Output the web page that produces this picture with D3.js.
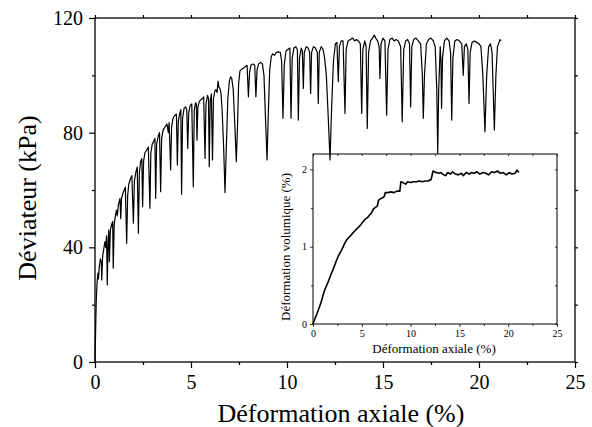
<!DOCTYPE html>
<html>
<head>
<meta charset="utf-8">
<script src="https://cdn.jsdelivr.net/npm/d3@7"></script>
<style>
html,body{margin:0;padding:0;background:#fff;}
svg{display:block;}
text{font-family:"Liberation Serif","Times New Roman",serif;fill:#000;}
</style>
</head>
<body>
<svg id="chart" width="592" height="427"></svg>
<script>
// ---------- DATA ----------
// Main curve: axial strain (%) vs deviator stress (kPa)
const mainStrain = [0.00,0.03,0.06,0.10,0.15,0.18,0.22,0.28,0.33,0.35,0.40,0.47,0.52,0.56,0.60,0.64,0.68,0.72,0.75,0.80,0.87,0.92,0.95,1.00,1.06,1.12,1.16,1.22,1.30,1.34,1.38,1.46,1.52,1.58,1.65,1.70,1.76,1.85,1.92,2.00,2.05,2.12,2.20,2.26,2.31,2.38,2.44,2.48,2.53,2.60,2.70,2.78,2.86,2.91,2.98,3.06,3.12,3.16,3.21,3.30,3.36,3.42,3.47,3.55,3.65,3.75,3.82,3.86,3.94,3.99,4.06,4.15,4.24,4.29,4.34,4.42,4.47,4.51,4.56,4.64,4.72,4.78,4.83,4.88,4.96,5.04,5.12,5.17,5.24,5.28,5.31,5.36,5.44,5.52,5.60,5.66,5.73,5.78,5.86,5.91,5.95,6.00,6.06,6.12,6.17,6.24,6.30,6.36,6.41,6.45,6.50,6.56,6.62,6.70,6.77,6.84,6.92,7.00,7.06,7.12,7.20,7.30,7.36,7.42,7.48,7.55,7.62,7.72,7.82,7.92,7.99,8.05,8.12,8.22,8.32,8.38,8.44,8.52,8.62,8.72,8.80,8.88,8.96,9.02,9.10,9.18,9.25,9.35,9.45,9.55,9.65,9.72,9.79,9.86,9.95,10.05,10.15,10.21,10.27,10.36,10.46,10.54,10.59,10.65,10.74,10.80,10.85,10.90,11.00,11.10,11.18,11.23,11.28,11.38,11.48,11.58,11.63,11.68,11.78,11.88,11.96,12.05,12.15,12.24,12.32,12.42,12.52,12.60,12.67,12.73,12.82,12.92,13.02,13.08,13.18,13.30,13.42,13.52,13.62,13.72,13.82,13.89,13.95,14.05,14.12,14.18,14.25,14.35,14.45,14.55,14.62,14.72,14.80,14.84,14.90,15.00,15.10,15.19,15.26,15.36,15.48,15.58,15.68,15.80,15.92,16.00,16.08,16.18,16.28,16.38,16.44,16.50,16.60,16.72,16.84,16.96,17.05,17.10,17.16,17.26,17.38,17.50,17.62,17.72,17.80,17.85,17.90,17.98,18.02,18.05,18.10,18.20,18.32,18.44,18.52,18.58,18.64,18.74,18.86,18.98,19.10,19.18,19.24,19.34,19.42,19.48,19.54,19.64,19.76,19.88,20.00,20.10,20.20,20.31,20.40,20.50,20.60,20.68,20.80,20.88,20.96,21.04,21.10,21.15];
const mainDeviator = [0,10,20,27,31,29,33,36,35,28.6,37,40,42,40,44,26.9,42,46,35,46,48,49,32.7,48,51,53,51,55,57,50,57,59,60,61,41.4,58,62,64,65,48.4,63,66,68,44.9,66,70,71,54.2,70,73,74,75,53.6,73,76,77,78,57.1,76,79,80,59.4,78,81,82,83,80,83.5,67,82,85,86,86.5,68.7,84,87,88,58.5,85,88.5,89,88,74.5,87,89.5,90,61.1,88,90.5,90,77.4,89,91,91.5,92,92.5,71,90,93,92,68.1,91,93.5,70.5,92,94.5,95,94,98,96,95.5,94,88,75,59.1,75,92,98,99.5,99,95,80,69.9,82,97,101.5,102,102.5,103,103.5,92.5,101,103.5,104,103.5,92.5,102,104,104.5,104,100,85,70.5,85,102,106.5,107.5,107,108,108.2,108,105,85,104,108.5,109,109.5,85,106,109.5,110,109,84.4,106,109.5,108.5,95.4,108,110,109.5,108,93.7,108,110,109.5,108,90.2,108,110,109,106,100,85,70.5,88,105,111,111.5,97.8,110,112,112,86.7,109,112,112.5,113,112,112.5,112,111,86.7,109,112,110,81.5,108,112,113,114,113,112,110,98.9,111,113,112,86.1,109,112.5,113,112,112.5,112,110,83.8,109,112,112.5,111,89,110,112.5,113,112,111,100,85,100,111,112.5,113,112,110,95,72.8,95,110,105,88.5,106,112,113,112,108,84.4,106,112,112.5,112,111,100,110,111,109,90.2,108,111.5,112,111.5,111,110,100,80.3,100,110,111,108,80.9,100,110,111.5,112.5,112];

// Inset curve: axial strain (%) vs volumetric strain (%)
const insetStrain = [0,0.2,0.4,0.6,0.8,1.0,1.2,1.4,1.6,1.9,2.1,2.4,2.6,2.9,3.2,3.4,3.6,3.9,4.1,4.4,4.8,5.1,5.3,5.6,5.8,6.0,6.2,6.4,6.6,6.7,6.9,7.1,7.3,7.4,7.7,8.0,8.3,8.6,8.9,9.0,9.2,9.5,9.7,10.0,10.3,10.6,10.9,11.2,11.5,11.8,12.1,12.3,12.6,12.9,13.1,13.4,13.6,13.8,14.1,14.3,14.6,14.9,15.2,15.4,15.7,16.0,16.2,16.5,16.8,17.1,17.4,17.7,18.0,18.3,18.6,18.9,19.2,19.5,19.8,20.1,20.4,20.7,20.9,21.1];
const insetVol = [0,0.07,0.13,0.2,0.27,0.36,0.44,0.5,0.56,0.66,0.72,0.82,0.88,0.95,1.03,1.08,1.11,1.15,1.18,1.22,1.27,1.32,1.35,1.38,1.41,1.44,1.49,1.51,1.53,1.6,1.62,1.63,1.65,1.70,1.70,1.71,1.70,1.72,1.72,1.84,1.83,1.81,1.84,1.83,1.84,1.84,1.85,1.84,1.85,1.85,1.87,1.98,1.96,1.95,1.96,1.93,1.92,1.96,1.94,1.97,1.94,1.93,1.95,1.92,1.96,1.94,1.96,1.95,1.97,1.94,1.96,1.95,1.93,1.97,1.96,1.98,1.95,1.96,1.93,1.96,1.94,1.95,1.99,1.96];

// Tick labels
const mainXMajor = [0,5,10,15,20,25];
const mainXMinor = [2.5,7.5,12.5,17.5,22.5];
const mainYMajor = [0,40,80,120];
const mainYMinor = [20,60,100];
const insetXMajor = [0,5,10,15,20,25];
const insetXMinor = [2.5,7.5,12.5,17.5,22.5];
const insetYMajor = [0,1,2];
const insetYMinor = [0.5,1.5];

const mainXTitle = "Déformation axiale (%)";
const mainYTitle = "Déviateur (kPa)";
const insetXTitle = "Déformation axiale (%)";
const insetYTitle = "Déformation volumique (%)";

// ---------- DRAW ----------
const svg = d3.select("#chart");
svg.append("rect").attr("width",592).attr("height",427).attr("fill","#fff");

function drawPanel(cfg){
  const g = svg.append("g");
  const x = d3.scaleLinear().domain(cfg.xDomain).range([cfg.left, cfg.right]);
  const y = d3.scaleLinear().domain(cfg.yDomain).range([cfg.bottom, cfg.top]);
  const fmt = d3.format("d");

  function addAxis(axis, tx, ty, showLabels, fontSize, pad){
    const a = g.append("g").attr("transform",`translate(${tx},${ty})`)
      .call(axis.tickSizeOuter(0).tickPadding(pad).tickFormat(showLabels ? fmt : ""));
    a.select(".domain").remove();
    a.attr("font-family",null).attr("font-size",null);
    a.selectAll("line").attr("stroke","#000").attr("stroke-width",cfg.tickW);
    a.selectAll("text").attr("font-size",fontSize).attr("fill","#000");
    return a;
  }
  // bottom
  addAxis(d3.axisBottom(x).tickValues(cfg.xMajor).tickSizeInner(cfg.majorLen), 0, cfg.bottom, true, cfg.tickFont, cfg.xPad);
  addAxis(d3.axisBottom(x).tickValues(cfg.xMinor).tickSizeInner(cfg.minorLen), 0, cfg.bottom, false, cfg.tickFont, 0);
  // left
  addAxis(d3.axisLeft(y).tickValues(cfg.yMajor).tickSizeInner(cfg.majorLen), cfg.left, 0, true, cfg.tickFont, cfg.yPad);
  addAxis(d3.axisLeft(y).tickValues(cfg.yMinor).tickSizeInner(cfg.minorLen), cfg.left, 0, false, cfg.tickFont, 0);
  // top & right mirrored ticks
  addAxis(d3.axisTop(x).tickValues(cfg.xMajor.concat(cfg.xMinor)).tickSizeInner(cfg.mirrorLen), 0, cfg.top, false, cfg.tickFont, 0);
  addAxis(d3.axisRight(y).tickValues(cfg.yMajor.concat(cfg.yMinor)).tickSizeInner(cfg.mirrorLen), cfg.right, 0, false, cfg.tickFont, 0);

  // frame
  g.append("rect").attr("x",cfg.left).attr("y",cfg.top)
    .attr("width",cfg.right-cfg.left).attr("height",cfg.bottom-cfg.top)
    .attr("fill","none").attr("stroke","#000").attr("stroke-width",cfg.frameW);

  // line
  const pts = cfg.xs.map((v,i)=>[v, cfg.ys[i]]);
  g.append("path").datum(pts)
    .attr("d", d3.line().x(d=>x(d[0])).y(d=>y(d[1])))
    .attr("fill","none").attr("stroke","#000").attr("stroke-width",cfg.lineW)
    .attr("stroke-linejoin","round");

  // titles
  g.append("text").attr("x",cfg.xTitlePos[0]).attr("y",cfg.xTitlePos[1])
    .attr("text-anchor","middle").attr("font-size",cfg.titleFont).text(cfg.xTitle);
  g.append("text").attr("transform",`translate(${cfg.yTitlePos[0]},${cfg.yTitlePos[1]}) rotate(-90)`)
    .attr("text-anchor","middle").attr("font-size",cfg.titleFont).text(cfg.yTitle);
}

drawPanel({
  xDomain:[0,25], yDomain:[0,120],
  left:95, right:575, top:18, bottom:362,
  xMajor:mainXMajor, xMinor:mainXMinor, yMajor:mainYMajor, yMinor:mainYMinor,
  majorLen:6, minorLen:3, mirrorLen:3, tickW:1.2, frameW:1.3,
  tickFont:20, xPad:7, yPad:6,
  xs:mainStrain, ys:mainDeviator, lineW:1.2,
  xTitle:mainXTitle, yTitle:mainYTitle, titleFont:26,
  xTitlePos:[341,422], yTitlePos:[36,198]
});

drawPanel({
  xDomain:[0,25], yDomain:[0,2.2],
  left:313, right:557, top:154, bottom:324,
  xMajor:insetXMajor, xMinor:insetXMinor, yMajor:insetYMajor, yMinor:insetYMinor,
  majorLen:3, minorLen:2, mirrorLen:-2, tickW:0.8, frameW:1,
  tickFont:10, xPad:3, yPad:3,
  xs:insetStrain, ys:insetVol, lineW:1.6,
  xTitle:insetXTitle, yTitle:insetYTitle, titleFont:13,
  xTitlePos:[434,353], yTitlePos:[290,247]
});
</script>
</body>
</html>
